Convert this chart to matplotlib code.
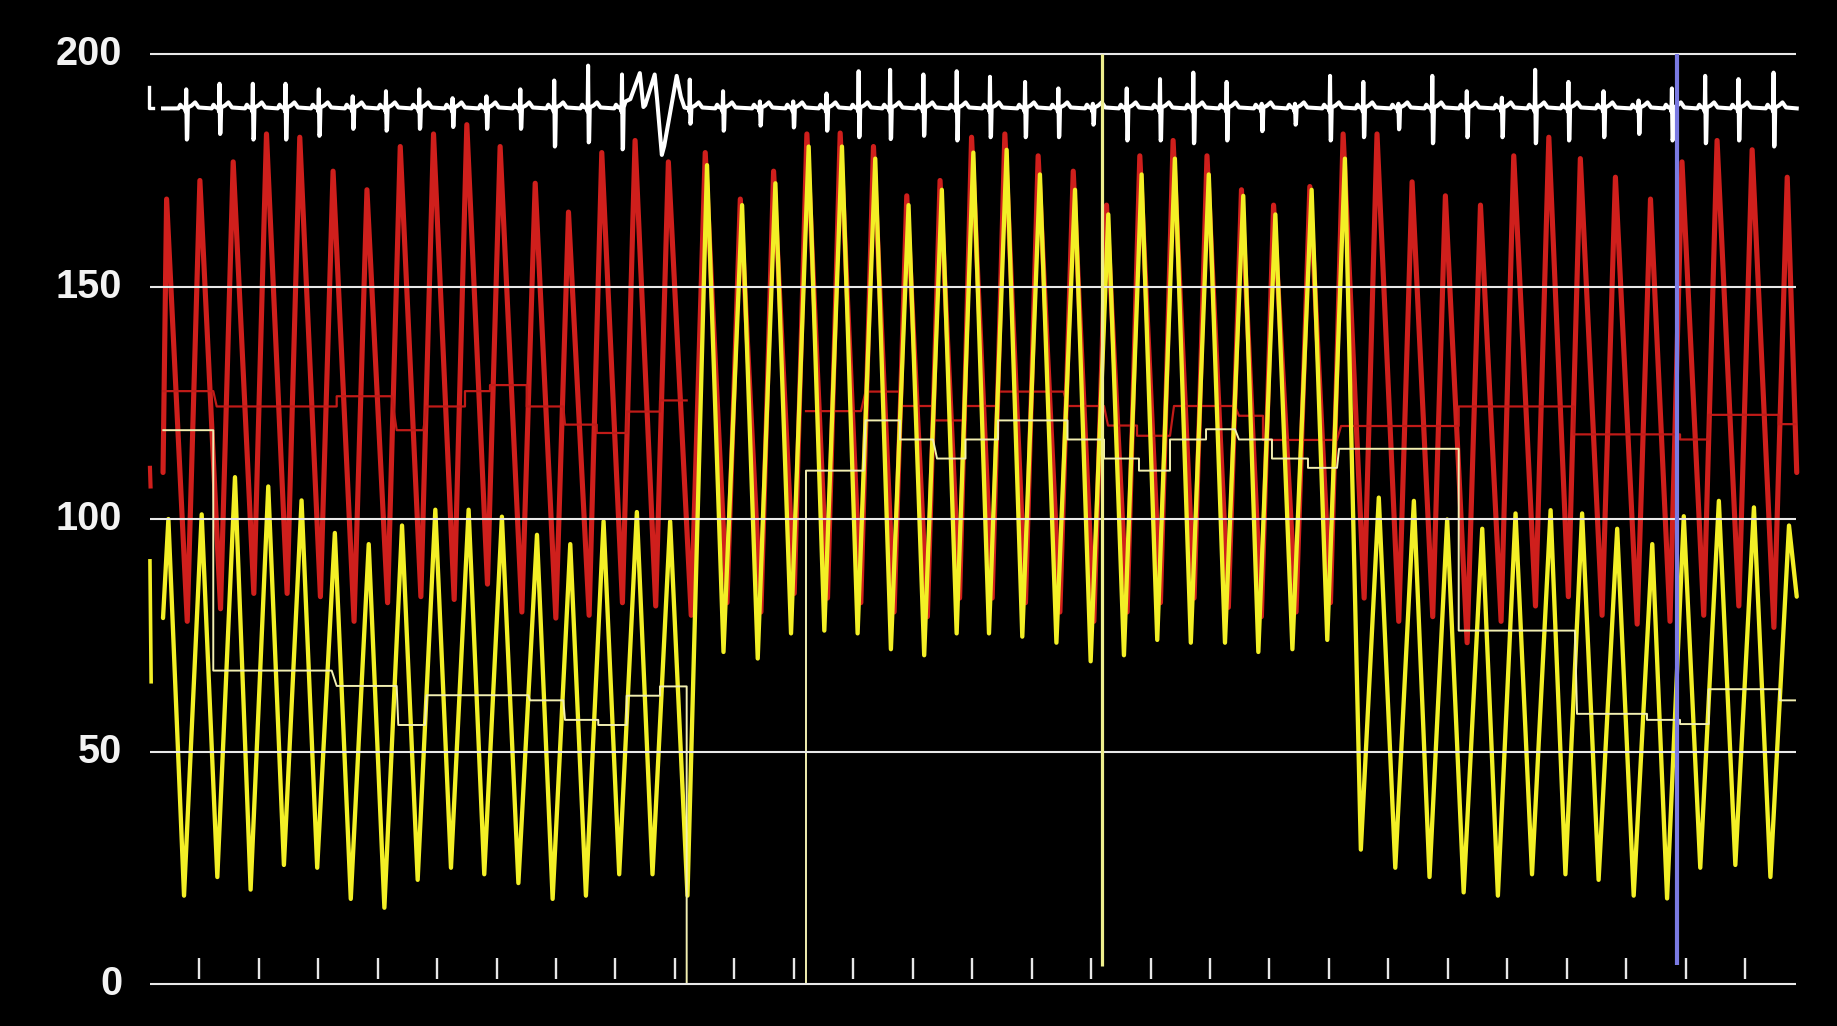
import numpy as np
import matplotlib
matplotlib.use("Agg")
import matplotlib.pyplot as plt

# ---------------- data ----------------
# time of each arterial pulse peak (s); ticks are one second apart
beat_t = [0.45, 1.01, 1.57, 2.13, 2.69, 3.25, 3.82, 4.38, 4.94, 5.50,
          6.06, 6.65, 7.21, 7.77, 8.33, 8.89, 9.51, 10.10, 10.66, 11.22,
          11.78, 12.34, 12.90, 13.46, 13.99, 14.55, 15.11, 15.70, 16.26, 16.82,
          17.38, 17.95, 18.53, 19.07, 19.68, 20.24, 20.81, 21.40, 21.96, 22.55,
          23.11, 23.70, 24.23, 24.82, 25.41, 25.94, 26.53, 27.12, 27.71]

# red (arterial) pressure: peak of each beat, trough after each beat
red_sys = [168.8, 172.8, 176.8, 182.8, 182.1, 174.8, 170.8, 180.1, 182.8, 184.8,
           180.1, 172.2, 166.0, 178.8, 181.4, 176.8, 178.8, 168.8, 174.8, 182.8,
           183.0, 180.1, 169.5, 172.8, 182.1, 182.8, 178.1, 174.8, 167.5, 178.1,
           181.4, 178.1, 170.8, 167.5, 171.5, 182.8, 182.8, 172.5, 169.5, 167.5,
           178.1, 182.1, 177.5, 173.5, 168.8, 176.8, 181.4, 179.4, 173.5]
red_dia = [78.0, 80.7, 84.0, 84.0, 83.3, 78.0, 82.0, 83.3, 82.7, 86.0,
           80.0, 78.7, 79.3, 82.0, 81.3, 79.3, 82.0, 80.0, 84.0, 83.0,
           82.0, 80.0, 79.0, 83.0, 83.0, 82.0, 80.0, 78.0, 80.0, 82.0,
           83.0, 81.0, 79.0, 80.0, 82.0, 83.0, 78.0, 79.0, 73.4, 78.0,
           81.3, 83.3, 79.3, 77.4, 78.0, 79.3, 81.3, 76.7]

# yellow pressure: peak of each beat, trough after each beat
yel_sys = [100.0, 101.0, 109.0, 107.0, 104.0, 97.0, 94.6, 98.6, 102.0, 102.0,
           100.5, 96.6, 94.6, 99.5, 101.5, 99.5, 176.1, 167.5, 172.2, 180.1,
           180.1, 177.5, 167.5, 170.8, 178.8, 179.4, 174.1, 170.8, 165.5, 174.1,
           177.5, 174.1, 169.5, 165.5, 170.8, 177.5, 104.6, 103.9, 99.9, 97.9,
           101.2, 101.9, 101.2, 97.9, 94.6, 100.6, 103.9, 102.5, 98.6]
yel_dia = [19.0, 23.0, 20.3, 25.6, 25.0, 18.3, 16.4, 22.4, 25.0, 23.6,
           21.7, 18.3, 19.0, 23.6, 23.6, 19.0, 71.4, 70.0, 75.4, 76.0,
           75.4, 72.0, 70.7, 75.4, 75.4, 74.7, 73.4, 69.4, 70.7, 74.0,
           73.4, 73.4, 71.4, 72.0, 74.0, 28.9, 25.0, 23.0, 19.7, 19.0,
           23.6, 23.6, 22.4, 19.0, 18.4, 25.0, 25.6, 23.0]

# trace start / end values
red_start, red_end = 110.0, 110.0
yel_start, yel_end = 78.7, 83.3
trace_t0, trace_t1 = 0.39, 27.87

# mean step lines (start s, end s, value)
red_step_start = [0.394, 1.293, 3.311, 4.320, 4.825, 5.469, 5.890, 6.507, 7.151, 7.685,
                  8.189, 8.749, 11.205, 12.206, 12.786, 13.341, 13.888, 14.435, 15.604, 16.285,
                  16.773, 17.395, 18.488, 18.892, 20.205, 22.184, 24.119, 25.907, 26.389, 27.567]
red_step_end = [1.235, 3.311, 4.236, 4.768, 5.469, 5.890, 6.507, 7.123, 7.685, 8.189,
                8.749, 9.198, 12.130, 12.786, 13.341, 13.888, 14.435, 15.537, 16.218, 16.773,
                17.328, 18.421, 18.892, 20.137, 22.184, 24.119, 25.907, 26.389, 27.567, 27.841]
red_step_val = [127.5, 124.2, 126.4, 119.1, 124.2, 127.5, 128.8, 124.2, 120.3, 118.5,
                123.1, 125.5, 123.2, 127.4, 124.3, 121.2, 124.3, 127.4, 124.3, 120.1,
                117.9, 124.3, 122.2, 117.0, 120.0, 124.2, 118.2, 117.1, 122.4, 120.4]

yel_step_start = [0.394, 1.235, 3.311, 4.347, 4.825, 6.563, 7.151, 7.711, 8.189, 8.749,
                  11.205, 12.206, 12.786, 13.409, 13.888, 14.435, 15.604, 16.218, 16.806, 17.328,
                  17.934, 18.488, 19.043, 19.649, 20.171, 22.184, 24.174, 25.351, 25.907, 26.389,
                  27.588]
yel_step_end = [1.235, 3.227, 4.320, 4.796, 6.534, 7.123, 7.711, 8.189, 8.749, 9.198,
                12.172, 12.786, 13.341, 13.888, 14.435, 15.604, 16.218, 16.806, 17.328, 17.934,
                18.421, 19.043, 19.649, 20.137, 22.184, 24.140, 25.351, 25.907, 26.389, 27.588,
                27.841]
yel_step_val = [119.1, 67.4, 64.1, 55.7, 62.1, 61.0, 56.8, 55.7, 62.0, 64.0,
                110.4, 121.2, 117.1, 113.0, 117.1, 121.2, 117.1, 113.0, 110.4, 117.1,
                119.3, 117.1, 113.0, 111.0, 115.1, 76.0, 58.1, 56.8, 55.9, 63.4,
                61.0]

# ECG complexes: R time, R top, S bottom
ecg_t = [0.78, 1.34, 1.90, 2.45, 3.01, 3.58, 4.14, 4.70, 5.26, 5.83,
         6.40, 6.97, 7.54, 8.11, 9.25, 9.81, 10.43, 10.99, 11.55, 12.09,
         12.62, 13.18, 13.74, 14.30, 14.89, 15.45, 16.03, 16.60, 17.16, 17.72,
         18.28, 18.87, 19.43, 20.02, 20.58, 21.17, 21.74, 22.32, 22.91, 23.47,
         24.03, 24.62, 25.21, 25.77, 26.33, 26.89, 27.48]
ecg_top = [192.4, 193.6, 193.6, 193.6, 192.4, 190.9, 192.0, 192.4, 190.5, 190.9,
           192.4, 194.3, 197.5, 195.6, 194.5, 192.0, 189.8, 189.8, 191.5, 196.3,
           196.6, 195.6, 196.3, 195.1, 194.0, 192.6, 189.3, 192.6, 194.6, 196.0,
           194.0, 189.3, 189.3, 195.3, 194.0, 189.3, 195.3, 192.0, 190.6, 196.6,
           194.0, 192.0, 190.0, 192.6, 195.3, 194.6, 196.0]
ecg_bot = [181.6, 182.8, 181.6, 181.6, 182.4, 183.9, 183.5, 183.9, 184.3, 183.9,
           183.9, 180.1, 181.0, 179.5, 185.0, 183.5, 184.6, 184.2, 183.5, 182.1,
           181.7, 182.4, 181.4, 182.1, 182.1, 182.1, 184.8, 181.4, 181.4, 180.8,
           181.4, 183.4, 184.8, 181.4, 182.1, 183.8, 180.8, 182.1, 182.1, 180.8,
           181.4, 182.1, 182.8, 181.4, 180.8, 181.4, 180.1]
ecg_base = 188.3
# movement artefact on the ECG between 8.1 s and 9.2 s
art_t = [8.17, 8.25, 8.41, 8.47, 8.50, 8.66, 8.70, 8.78, 8.82, 9.03, 9.10, 9.16]
art_v = [189.8, 190.3, 195.9, 188.6, 189.0, 195.6, 190.3, 178.3, 180.2, 195.3, 190.8, 188.5]

y_ticks = [0, 50, 100, 150, 200]
x_ticks = list(range(1, 28))
marker_yellow_t = 16.18
marker_blue_t = 25.85

# ---------------- style ----------------
BG = "black"
RED = "#cf1f1c"
YEL = "#f3ef26"
RSTEP = "#c01b18"
YSTEP = "#f1eeb0"
GRID = "#e8e8e8"
W, H, DPI = 1837, 1026, 100

fig = plt.figure(figsize=(W / DPI, H / DPI), dpi=DPI, facecolor=BG)
ax = fig.add_axes([0.07621, 0.01374, 0.90637, 0.96082])
ax.set_facecolor(BG)
ax.set_xlim(0.0025, 28.009)
ax.set_ylim(-6, 206)
ax.axis("off")

grid_x0, grid_x1 = 0.171, 27.857

# ---- red arterial trace ----
rt, rv = [trace_t0], [red_start]
for i, tp in enumerate(beat_t):
    if i > 0:
        rt.append(beat_t[i - 1] + 0.62 * (tp - beat_t[i - 1]))
        rv.append(red_dia[i - 1])
    rt.append(tp)
    rv.append(red_sys[i])
rt.append(trace_t1)
rv.append(red_end)
ax.plot(rt, rv, color=RED, lw=3.7, solid_joinstyle="round", solid_capstyle="round", zorder=2)
ax.plot([0.17, 0.18], [111, 107], color=RED, lw=3.0, zorder=2)


def step_path(starts, ends, vals, drop_to_zero=False):
    runs = []
    cur_t, cur_v = [], []
    for s, e, v in zip(starts, ends, vals):
        if cur_t and s - cur_t[-1] > 0.5:
            runs.append((cur_t, cur_v))
            cur_t, cur_v = [], []
        cur_t += [s, e]
        cur_v += [v, v]
    runs.append((cur_t, cur_v))
    if drop_to_zero:
        for k, (tt, vv) in enumerate(runs):
            if k > 0:
                tt.insert(0, tt[0]); vv.insert(0, 0)
            if k < len(runs) - 1:
                tt.append(tt[-1]); vv.append(0)
    return runs


for tt, vv in step_path(red_step_start, red_step_end, red_step_val, False):
    ax.plot(tt, vv, color=RSTEP, lw=1.6, zorder=3)

# ---- yellow trace ----
ypk = [t + 0.03 for t in beat_t]
yt, yv = [trace_t0], [yel_start]
for i, tp in enumerate(ypk):
    if i > 0:
        yt.append(ypk[i - 1] + 0.47 * (tp - ypk[i - 1]))
        yv.append(yel_dia[i - 1])
    yt.append(tp)
    yv.append(yel_sys[i])
yt.append(trace_t1)
yv.append(yel_end)
ax.plot(yt, yv, color=YEL, lw=3.1, solid_joinstyle="round", solid_capstyle="round", zorder=4)
ax.plot([0.17, 0.19], [91, 65], color=YEL, lw=2.6, zorder=4)

for tt, vv in step_path(yel_step_start, yel_step_end, yel_step_val, True):
    ax.plot(tt, vv, color=YSTEP, lw=1.4, zorder=5)

# ---- ECG ----
et, ev = [trace_t0], [ecg_base]
core_only = {8.11: "head", 9.25: "tail"}
for t, top, bot in zip(ecg_t, ecg_top, ecg_bot):
    head = [(t - 0.13, ecg_base), (t - 0.10, ecg_base + 0.8), (t - 0.07, ecg_base + 0.3)]
    core = [(t - 0.02, ecg_base), (t - 0.008, ecg_base - 0.7), (t, top),
            (t + 0.010, bot), (t + 0.018, bot + 0.3), (t + 0.028, ecg_base + 0.2)]
    tail = [(t + 0.09, ecg_base + 0.6), (t + 0.15, ecg_base + 1.3), (t + 0.21, ecg_base + 0.2)]
    kind = core_only.get(t)
    pts = (head if kind != "tail" else []) + core + (tail if kind != "head" else [])
    for a, b in pts:
        et.append(a); ev.append(b)
for a, b in zip(art_t, art_v):
    et.append(a); ev.append(b)
et.append(trace_t1); ev.append(ecg_base)
order = np.argsort(et, kind="stable")
et = np.array(et)[order]; ev = np.array(ev)[order]
ax.plot(et, ev, color="white", lw=2.9, solid_joinstyle="round", zorder=6)
ax.plot([0.16, 0.16, 0.22], [193.0, ecg_base, ecg_base], color="white", lw=2.4, zorder=6)

# ---- grid, labels, ticks ----
ax.hlines(y_ticks, grid_x0, grid_x1, colors=GRID, lw=1.5, zorder=7)
for v in y_ticks:
    ax.text(-0.30, v, str(v), color="#f2f2f2", fontsize=28.5, family="Liberation Sans",
            fontweight="bold", ha="right", va="center", clip_on=False)
ax.vlines(x_ticks, 1.0, 5.5, colors=GRID, lw=1.7, zorder=7)

# ---- marker lines ----
ax.vlines([marker_yellow_t], 3.8, 200, colors="#eeee8c", lw=2.3, zorder=8)
ax.vlines([marker_blue_t], 4.0, 200, colors="#7a7ae2", lw=3.0, zorder=8)

fig.savefig("out.png", dpi=DPI, facecolor=BG)
